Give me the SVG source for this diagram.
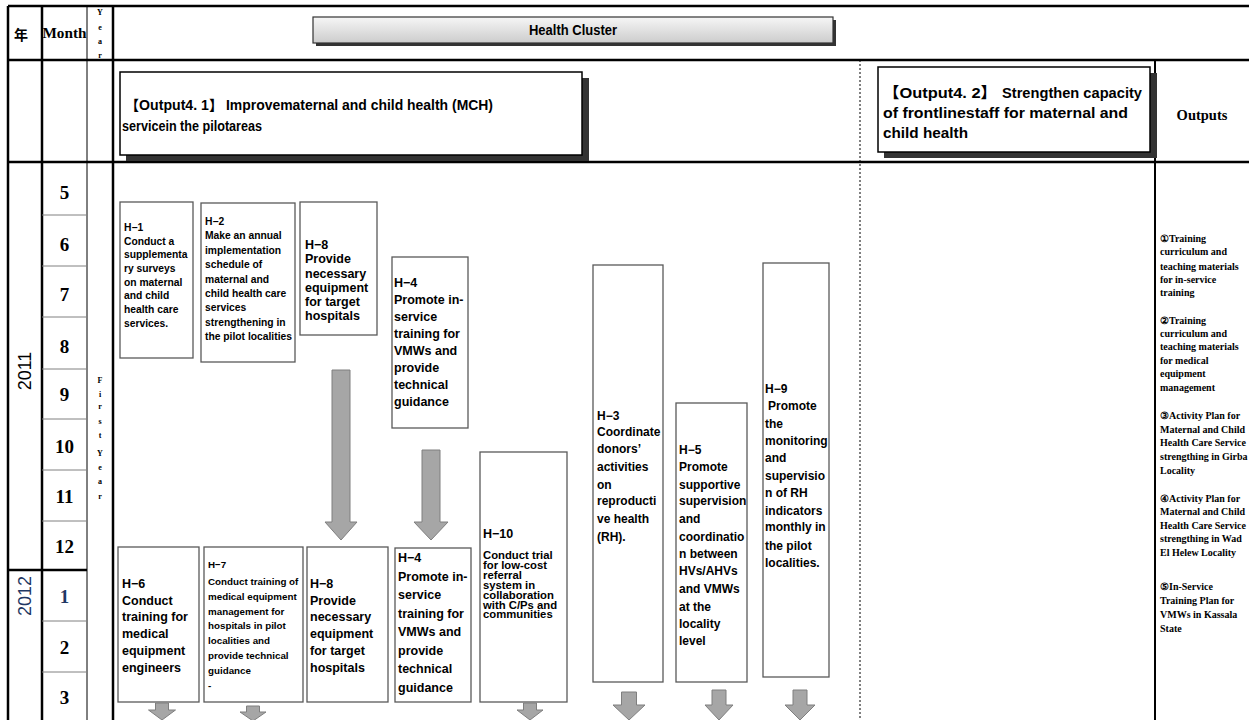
<svg xmlns="http://www.w3.org/2000/svg" width="1249" height="720" viewBox="0 0 1249 720">
<defs>
<linearGradient id="hcGrad" x1="0" y1="0" x2="0" y2="1">
<stop offset="0" stop-color="#f6f6f6"/>
<stop offset="1" stop-color="#cccccc"/>
</linearGradient>
<style>
.ln{stroke:#000;fill:none}
.thick{stroke-width:2.5}
.thin{stroke-width:1}
.mdiv{stroke:#808080;stroke-width:1}
.box{fill:#fff;stroke:#595959;stroke-width:1.3}
.arrow{fill:#a6a6a6;stroke:#7f7f7f;stroke-width:1}
.t{font-family:"Liberation Sans",Arial,sans-serif;font-weight:bold;fill:#000}
.f10{font-size:10.3px}
.f97{font-size:9.8px}
.f12{font-size:12.5px}
.f11{font-size:12px}
.f115{font-size:11.3px}
.sf{font-family:"Liberation Serif","Times New Roman",serif;font-weight:bold;fill:#000}
.mon{font-size:19px;text-anchor:middle}
.yr{font-family:"Liberation Sans",Arial,sans-serif;font-size:18px;text-anchor:middle}
.vl{font-size:8px;text-anchor:middle}
.out{font-size:10px}
.shadow{fill:#333}
.hd{font-family:"Liberation Sans","Noto Sans CJK JP",Arial,sans-serif;font-weight:bold;fill:#000}
</style>
</defs>
<rect x="0" y="0" width="1249" height="720" fill="#fff"/>

<g id="table">
<line class="ln thick" x1="8" y1="6" x2="1249" y2="6"/>
<line class="ln thick" x1="8" y1="60" x2="1249" y2="60"/>
<line class="ln thick" x1="8" y1="162" x2="1249" y2="162"/>
<line class="ln thick" x1="8" y1="6" x2="8" y2="720"/>
<line class="ln thick" x1="42" y1="6" x2="42" y2="720"/>
<line class="ln thin" x1="87" y1="6" x2="87" y2="720"/>
<line class="ln thick" x1="113" y1="6" x2="113" y2="720"/>
<line class="ln" x1="860" y1="60" x2="860" y2="720" stroke-width="1" stroke-dasharray="2 2"/>
<line class="ln" x1="1155" y1="60" x2="1155" y2="720" stroke-width="2"/>
<g class="mdiv">
<line x1="42" y1="215" x2="87" y2="215"/>
<line x1="42" y1="266" x2="87" y2="266"/>
<line x1="42" y1="317" x2="87" y2="317"/>
<line x1="42" y1="369" x2="87" y2="369"/>
<line x1="42" y1="419" x2="87" y2="419"/>
<line x1="42" y1="470" x2="87" y2="470"/>
<line x1="42" y1="521" x2="87" y2="521"/>
<line x1="42" y1="621" x2="87" y2="621"/>
<line x1="42" y1="672" x2="87" y2="672"/>
</g>
<line class="ln thick" x1="8" y1="570" x2="87" y2="570"/>

<text class="hd" x="21" y="40" font-size="14" text-anchor="middle">年</text>
<text class="sf" x="64.5" y="38" font-size="15" text-anchor="middle" textLength="44" lengthAdjust="spacingAndGlyphs">Month</text>
<g class="sf vl">
<text x="100" y="15">Y</text><text x="100" y="30">e</text><text x="100" y="44">a</text><text x="100" y="58">r</text>
<text x="100" y="383">F</text><text x="100" y="397">i</text><text x="100" y="409">r</text><text x="100" y="424">s</text><text x="100" y="438">t</text>
<text x="100" y="456">Y</text><text x="100" y="470">e</text><text x="100" y="484">a</text><text x="100" y="499">r</text>
</g>
<g class="sf mon">
<text x="64.5" y="199">5</text>
<text x="64.5" y="251">6</text>
<text x="64.5" y="301">7</text>
<text x="64.5" y="353">8</text>
<text x="64.5" y="401">9</text>
<text x="64.5" y="453">10</text>
<text x="64.5" y="503">11</text>
<text x="64.5" y="553">12</text>
<text x="64.5" y="603" fill="#1f3864">1</text>
<text x="64.5" y="654">2</text>
<text x="64.5" y="704">3</text>
</g>
<text class="yr" transform="translate(31,371) rotate(-90)">2011</text>
<text class="yr" transform="translate(31,596) rotate(-90)" fill="#1f3864">2012</text>
<text class="sf" x="1202" y="120" font-size="14.5" text-anchor="middle">Outputs</text>
</g>

<g id="health-cluster">
<rect x="316" y="20" width="520" height="26" class="shadow" fill="#555"/>
<rect x="313" y="17" width="520" height="26" fill="url(#hcGrad)" stroke="#333" stroke-width="1.2"/>
<text class="t" x="573" y="35" font-size="15" text-anchor="middle" textLength="88" lengthAdjust="spacingAndGlyphs">Health Cluster</text>
</g>

<g id="output41">
<rect x="126" y="78" width="463" height="83" class="shadow"/>
<rect x="120" y="72" width="462" height="83" fill="#fff" stroke="#000" stroke-width="1.5"/>
<text class="hd" x="125" y="110" font-size="14" textLength="98" lengthAdjust="spacingAndGlyphs">【Output4. 1】</text>
<text class="t" x="226" y="110" font-size="14" textLength="267" lengthAdjust="spacingAndGlyphs">Improvematernal and child health (MCH)</text>
<text class="t" x="122" y="131" font-size="14" textLength="140" lengthAdjust="spacingAndGlyphs">servicein the pilotareas</text>
</g>

<g id="output42">
<rect x="884" y="73" width="273" height="85" class="shadow"/>
<rect x="878" y="67" width="272" height="85" fill="#fff" stroke="#000" stroke-width="1.5"/>
<text class="hd" x="883" y="98" font-size="15" textLength="114" lengthAdjust="spacingAndGlyphs">【Output4. 2】</text>
<text class="t" x="1002" y="98" font-size="14.5" textLength="140" lengthAdjust="spacingAndGlyphs">Strengthen capacity</text>
<text class="t" x="883" y="118" font-size="14.5" textLength="245" lengthAdjust="spacingAndGlyphs">of frontlinestaff for maternal and</text>
<text class="t" x="883" y="138" font-size="14.5" textLength="85" lengthAdjust="spacingAndGlyphs">child health</text>
</g>

<g id="H-1">
<rect class="box" x="120" y="202" width="73" height="156"/>
<text class="t f10" x="124"><tspan x="124" y="231">H−1</tspan><tspan x="124" y="245">Conduct a</tspan><tspan x="124" y="258">supplementa</tspan><tspan x="124" y="272">ry surveys</tspan><tspan x="124" y="286">on maternal</tspan><tspan x="124" y="299">and child</tspan><tspan x="124" y="313">health care</tspan><tspan x="124" y="327">services.</tspan></text>
</g>
<g id="H-2">
<rect class="box" x="201" y="203" width="94" height="159"/>
<text class="t f10"><tspan x="205" y="225">H−2</tspan><tspan x="205" y="239">Make an annual</tspan><tspan x="205" y="254">implementation</tspan><tspan x="205" y="268">schedule of</tspan><tspan x="205" y="283">maternal  and</tspan><tspan x="205" y="297">child health care</tspan><tspan x="205" y="311">services</tspan><tspan x="205" y="326">strengthening in</tspan><tspan x="205" y="340">the pilot localities</tspan></text>
</g>
<g id="H-8-a">
<rect class="box" x="300" y="202" width="77" height="133"/>
<text class="t f12"><tspan x="305" y="249">H−8</tspan><tspan x="305" y="263">Provide</tspan><tspan x="305" y="277.5">necessary</tspan><tspan x="305" y="291.5">equipment</tspan><tspan x="305" y="306">for target</tspan><tspan x="305" y="320">hospitals</tspan></text>
</g>
<g id="H-4-a">
<rect class="box" x="392" y="257" width="76" height="171"/>
<text class="t f12"><tspan x="394" y="287">H−4</tspan><tspan x="394" y="304">Promote in-</tspan><tspan x="394" y="321">service</tspan><tspan x="394" y="338">training for</tspan><tspan x="394" y="355">VMWs and</tspan><tspan x="394" y="372">provide</tspan><tspan x="394" y="389">technical</tspan><tspan x="394" y="406">guidance</tspan></text>
</g>
<g id="H-6">
<rect class="box" x="118" y="547" width="81" height="155"/>
<text class="t f12"><tspan x="122" y="588">H−6</tspan><tspan x="122" y="605">Conduct</tspan><tspan x="122" y="621">training for</tspan><tspan x="122" y="638">medical</tspan><tspan x="122" y="655">equipment</tspan><tspan x="122" y="672">engineers</tspan></text>
</g>
<g id="H-7">
<rect class="box" x="204" y="547" width="99" height="155"/>
<text class="t f97"><tspan x="208" y="568">H−7</tspan><tspan x="208" y="585">Conduct training of</tspan><tspan x="208" y="600">medical  equipment</tspan><tspan x="208" y="615">management  for</tspan><tspan x="208" y="629">hospitals in pilot</tspan><tspan x="208" y="644">localities and</tspan><tspan x="208" y="659">provide technical</tspan><tspan x="208" y="674">guidance</tspan><tspan x="208" y="689">-</tspan></text>
</g>
<g id="H-8-b">
<rect class="box" x="307" y="547" width="81" height="155"/>
<text class="t f12"><tspan x="310" y="588">H−8</tspan><tspan x="310" y="605">Provide</tspan><tspan x="310" y="621">necessary</tspan><tspan x="310" y="638">equipment</tspan><tspan x="310" y="655">for target</tspan><tspan x="310" y="672">hospitals</tspan></text>
</g>
<g id="H-4-b">
<rect class="box" x="395" y="548" width="76" height="154"/>
<text class="t f12"><tspan x="398" y="562">H−4</tspan><tspan x="398" y="581">Promote in-</tspan><tspan x="398" y="599">service</tspan><tspan x="398" y="618">training for</tspan><tspan x="398" y="636">VMWs and</tspan><tspan x="398" y="655">provide</tspan><tspan x="398" y="673">technical</tspan><tspan x="398" y="692">guidance</tspan></text>
</g>
<g id="H-10">
<rect class="box" x="480" y="452" width="87" height="250"/>
<text class="t f12"><tspan x="483" y="538">H−10</tspan></text>
<text class="t f115"><tspan x="483" y="559">Conduct trial</tspan><tspan x="483" y="569">for low-cost</tspan><tspan x="483" y="579">referral</tspan><tspan x="483" y="589">system in</tspan><tspan x="483" y="599">collaboration</tspan><tspan x="483" y="608.5">with C/Ps and</tspan><tspan x="483" y="618">communities</tspan></text>
</g>
<g id="H-3">
<rect class="box" x="593" y="265" width="70" height="417"/>
<text class="t f11"><tspan x="597" y="419.5">H−3</tspan><tspan x="597" y="436">Coordinate</tspan><tspan x="597" y="453">donors’</tspan><tspan x="597" y="471">activities</tspan><tspan x="597" y="488.5">on</tspan><tspan x="597" y="505">reproducti</tspan><tspan x="597" y="523">ve health</tspan><tspan x="597" y="540.5">(RH).</tspan></text>
</g>
<g id="H-5">
<rect class="box" x="676" y="403" width="71" height="279"/>
<text class="t f11"><tspan x="679" y="454">H−5</tspan><tspan x="679" y="471">Promote</tspan><tspan x="679" y="488.5">supportive</tspan><tspan x="679" y="505">supervision</tspan><tspan x="679" y="523">and</tspan><tspan x="679" y="540.5">coordinatio</tspan><tspan x="679" y="558">n between</tspan><tspan x="679" y="575">HVs/AHVs</tspan><tspan x="679" y="593">and VMWs</tspan><tspan x="679" y="610.5">at the</tspan><tspan x="679" y="628">locality</tspan><tspan x="679" y="645">level</tspan></text>
</g>
<g id="H-9">
<rect class="box" x="763" y="263" width="66" height="414"/>
<text class="t f11"><tspan x="765" y="393">H−9</tspan><tspan x="768" y="410">Promote</tspan><tspan x="765" y="428">the</tspan><tspan x="765" y="444.5">monitoring</tspan><tspan x="765" y="462">and</tspan><tspan x="765" y="479.5">supervisio</tspan><tspan x="765" y="497">n of RH</tspan><tspan x="765" y="514.5">indicators</tspan><tspan x="765" y="531">monthly in</tspan><tspan x="765" y="549.5">the pilot</tspan><tspan x="765" y="567">localities.</tspan></text>
</g>

<g id="outputs-list" class="sf out">
<text><tspan x="1160" y="242">①Training</tspan><tspan x="1160" y="255">curriculum and</tspan><tspan x="1160" y="269.5">teaching materials</tspan><tspan x="1160" y="283">for in-service</tspan><tspan x="1160" y="296">training</tspan></text>
<text><tspan x="1160" y="323.5">②Training</tspan><tspan x="1160" y="337">curriculum and</tspan><tspan x="1160" y="350">teaching materials</tspan><tspan x="1160" y="363.5">for medical</tspan><tspan x="1160" y="377">equipment</tspan><tspan x="1160" y="391">management</tspan></text>
<text><tspan x="1160" y="418.5">③Activity Plan for</tspan><tspan x="1160" y="433">Maternal and Child</tspan><tspan x="1160" y="446">Health Care Service</tspan><tspan x="1160" y="460">strengthing in Girba</tspan><tspan x="1160" y="473.5">Locality</tspan></text>
<text><tspan x="1160" y="502">④Activity Plan for</tspan><tspan x="1160" y="515">Maternal and Child</tspan><tspan x="1160" y="528.5">Health Care Service</tspan><tspan x="1160" y="542">strengthing in Wad</tspan><tspan x="1160" y="556">El Helew Locality</tspan></text>
<text><tspan x="1160" y="590">⑤In-Service</tspan><tspan x="1160" y="604">Training Plan for</tspan><tspan x="1160" y="618">VMWs in Kassala</tspan><tspan x="1160" y="632">State</tspan></text>
</g>

<g id="connectors" class="arrow">
<path d="M332,370 H350 V522 H357 L341,540 L325,522 H332 Z"/>
<path d="M422,450 H440 V522 H448 L431,540 L414,522 H422 Z"/>
<path d="M155.5,703 H168.5 V710 H175.5 L162,720 L148.5,710 H155.5 Z"/>
<path d="M246.5,706 H259.5 V712 H266 L253,721 L240,712 H246.5 Z"/>
<path d="M523.5,703 H536.5 V710 H543 L530,720 L517,710 H523.5 Z"/>
<path d="M621.5,692 H636.5 V705 H645 L629,720 L613,705 H621.5 Z"/>
<path d="M712,690 H726 V705 H733 L719,720 L705,705 H712 Z"/>
<path d="M793,690 H807 V705 H815 L800,720 L785,705 H793 Z"/>
</g>
</svg>
